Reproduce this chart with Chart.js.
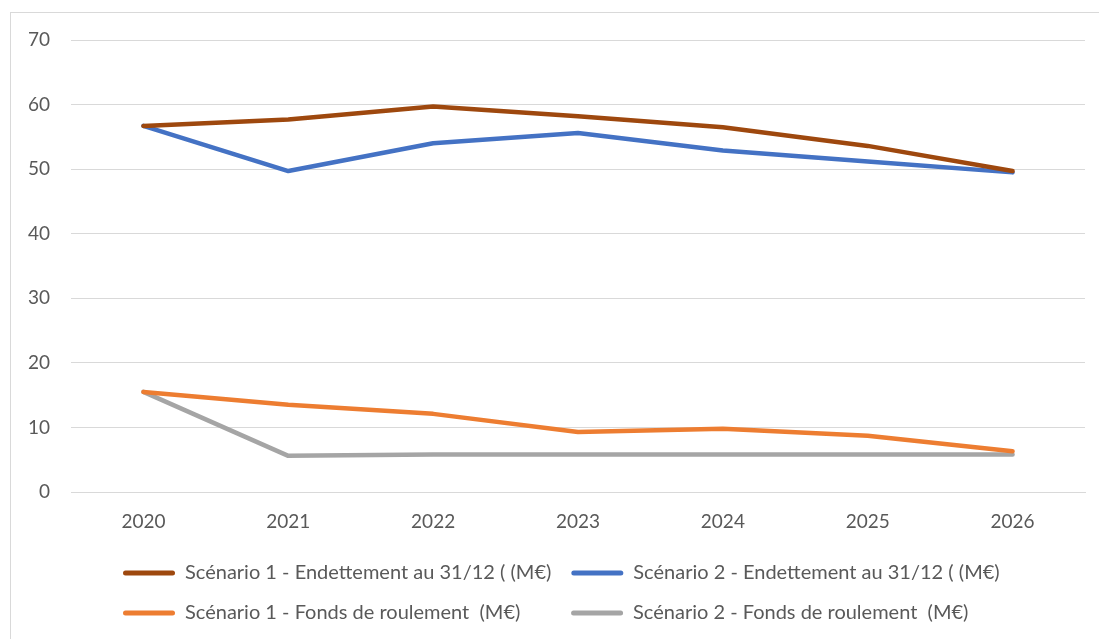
<!DOCTYPE html>
<html>
<head>
<meta charset="utf-8">
<script src="https://cdn.jsdelivr.net/npm/chart.js@4"></script>
<style>
  html, body { margin: 0; padding: 0; background: #ffffff; }
  #frame { position: absolute; left: 10px; top: 12px; width: 1100px; height: 640px; border: 1px solid #d9d9d9; box-sizing: border-box; }
  #wrap { position: absolute; left: 0; top: 0; width: 1099px; height: 639px; }
</style>
</head>
<body>
<div id="frame"></div>
<div id="wrap"><canvas id="chart"></canvas></div>
<script>
// ── DATA ────────────────────────────────────────────────────────────
var years = ["2020", "2021", "2022", "2023", "2024", "2025", "2026"];
var s1Dette = [56.7, 57.7, 59.7, 58.2, 56.5, 53.6, 49.7];
var s2Dette = [56.7, 49.7, 54.0, 55.6, 52.9, 51.2, 49.5];
var s1Fonds = [15.5, 13.5, 12.1, 9.3, 9.8, 8.7, 6.3];
var s2Fonds = [15.5, 5.6, 5.8, 5.8, 5.8, 5.8, 5.8];
var seriesNames = [
    "Scénario 1 - Endettement au 31/12 ( (M€)",
    "Scénario 2 - Endettement au 31/12 ( (M€)",
    "Scénario 1 - Fonds de roulement  (M€)",
    "Scénario 2 - Fonds de roulement  (M€)"
];
var yTicks = [0, 10, 20, 30, 40, 50, 60, 70];

// ── STYLE ───────────────────────────────────────────────────────────
var COLORS = ["#9e480e", "#4472c4", "#ed7d31", "#a5a5a5"];
var FONT = "Lato, 'Liberation Sans', sans-serif";
var TEXT = "#595959";
var GRID = "#d9d9d9";
var LEG_SIZE = 20;
var LEG_PAD = 20;
var LEG_START = 123;   // x where the first legend column begins

function makeSet(i, data) {
    return {
        label: seriesNames[i],
        data: data,
        borderColor: COLORS[i],
        backgroundColor: COLORS[i],
        borderWidth: 4.5,
        pointRadius: 0,
        tension: 0,
        borderCapStyle: "round",
        borderJoinStyle: "round"
    };
}

// legend items in columns: pad the shorter left-hand label of row 2
function legendLabels(chart) {
    var items = Chart.defaults.plugins.legend.labels.generateLabels(chart);
    var ctx = chart.ctx;
    ctx.save();
    ctx.font = LEG_SIZE + "px " + FONT;
    var target = ctx.measureText(items[0].text).width;
    var t = items[2].text;
    while (ctx.measureText(t + " ").width <= target + 1) t += " ";
    items[2].text = t;
    ctx.restore();
    items.forEach(function (it) { it.lineWidth = 0; });
    return items;
}

// shift the legend block so its first column starts where Excel put it
var legendShift = {
    id: "legendShift",
    afterLayout: function (chart) {
        var lg = chart.legend;
        var d = LEG_START - LEG_PAD - lg.left;
        lg.left += d;
        lg.right += d;
    }
};

new Chart(document.getElementById("chart"), {
    type: "line",
    data: {
        labels: years,
        datasets: [
            makeSet(0, s1Dette),
            makeSet(1, s2Dette),
            makeSet(2, s1Fonds),
            makeSet(3, s2Fonds)
        ]
    },
    plugins: [legendShift],
    options: {
        responsive: true,
        maintainAspectRatio: false,
        animation: false,
        layout: { padding: { top: 40, right: 14, left: 0, bottom: 6 } },
        plugins: {
            tooltip: { enabled: false },
            legend: {
                position: "bottom",
                align: "start",
                labels: {
                    font: { family: FONT, size: LEG_SIZE },
                    color: TEXT,
                    boxWidth: 52,
                    boxHeight: 5,
                    useBorderRadius: true,
                    borderRadius: 2.5,
                    padding: LEG_PAD,
                    generateLabels: legendLabels
                }
            }
        },
        scales: {
            x: {
                offset: true,
                grid: { display: false, drawTicks: false },
                border: { display: true, color: GRID, width: 1 },
                ticks: { font: { family: FONT, size: 19 }, color: TEXT, padding: 18, maxRotation: 0 },
                afterFit: function (s) { s.height = 51; }
            },
            y: {
                min: 0,
                max: 70,
                afterBuildTicks: function (s) { s.ticks = yTicks.map(function (v) { return { value: v }; }); },
                grid: { color: GRID, lineWidth: 1, drawTicks: false },
                border: { display: false },
                ticks: { font: { family: FONT, size: 19 }, color: TEXT, padding: 21 },
                afterFit: function (s) { s.width = 71; }
            }
        }
    }
});
</script>
</body>
</html>
